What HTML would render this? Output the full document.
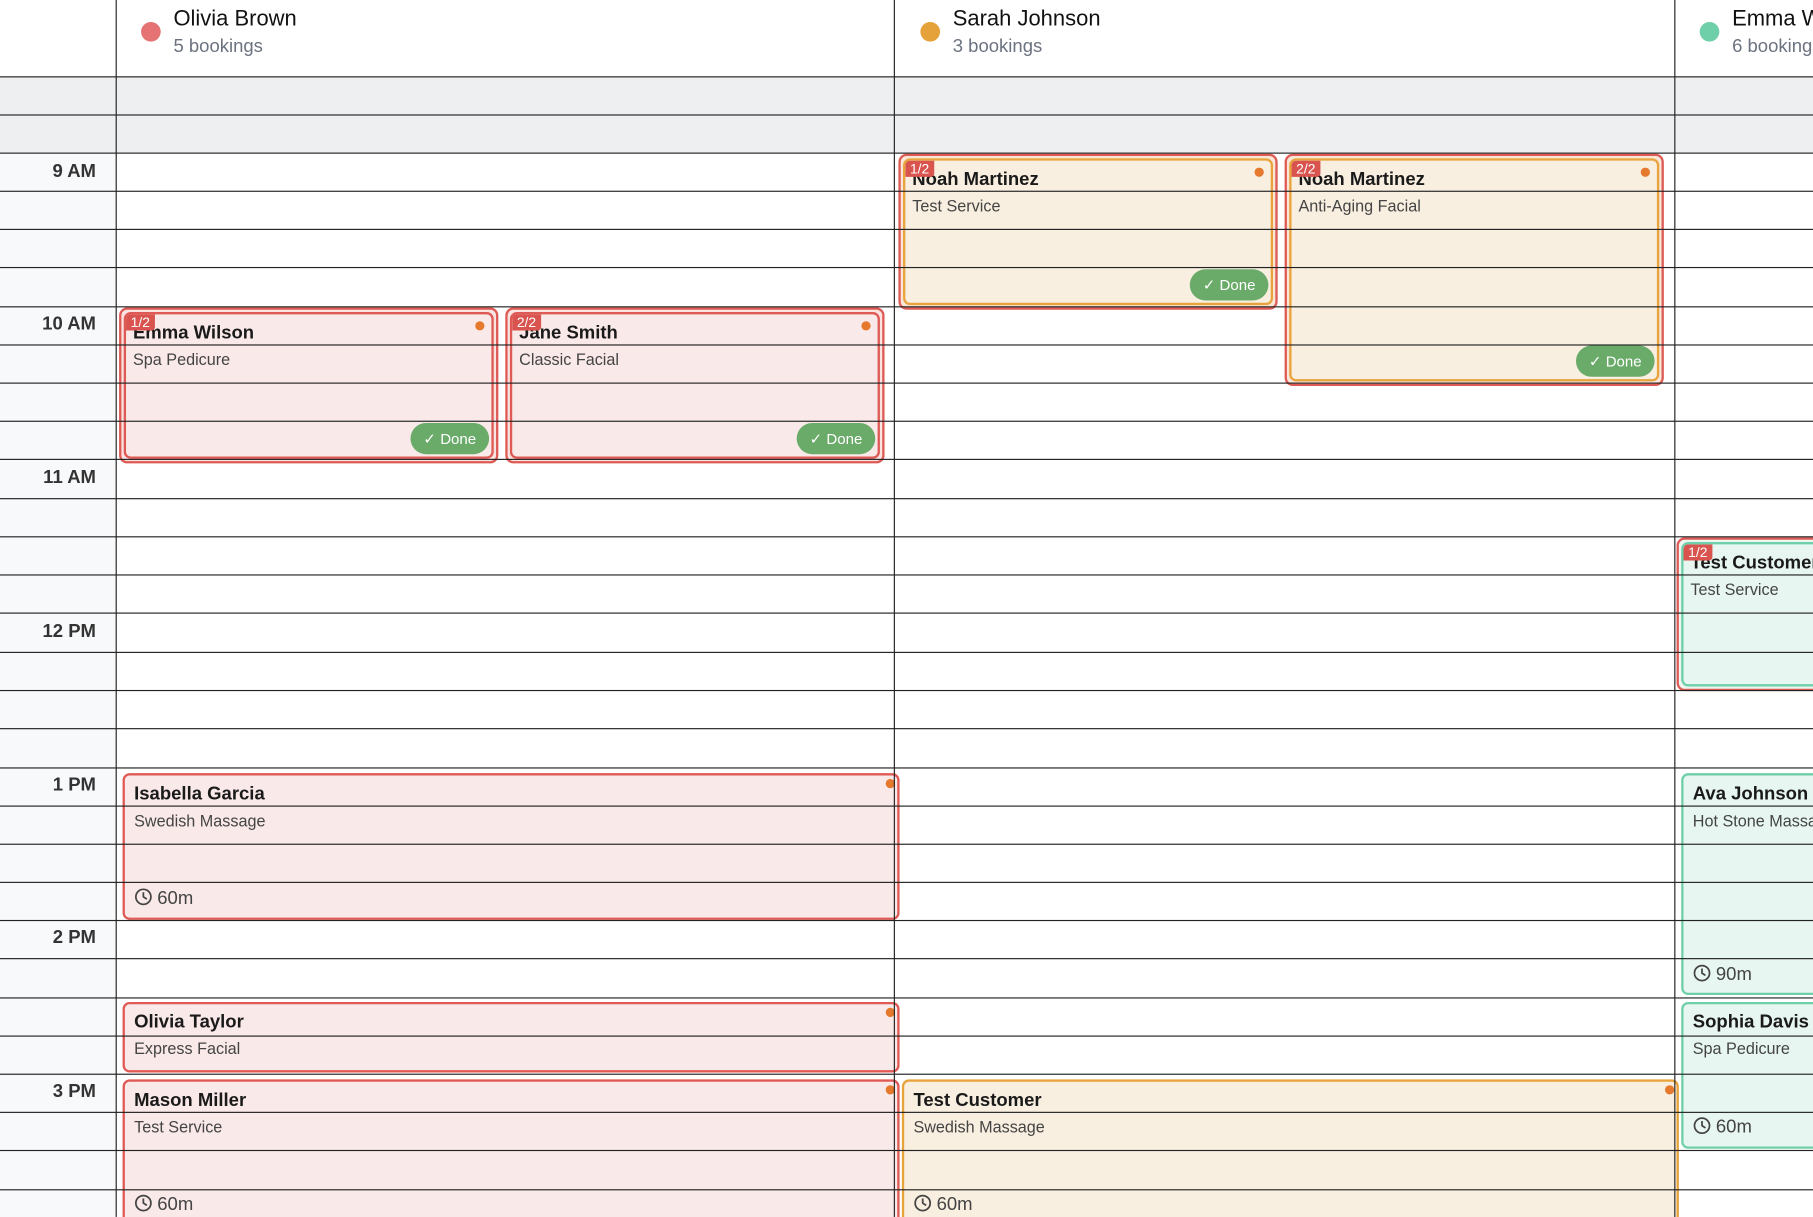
<!DOCTYPE html>
<html><head><meta charset="utf-8"><style>
*{box-sizing:border-box;margin:0;padding:0}
html,body{width:1813px;height:1217px;overflow:hidden;background:#fff;font-family:"Liberation Sans",sans-serif}
#w{position:absolute;left:0;top:0;width:1568px;height:1053px;transform:scale(1.15625,1.1557);transform-origin:0 0;overflow:hidden}
.a{position:absolute}
.h{position:absolute;left:0;width:1568px;height:1px;background:#222;z-index:5}
.v{position:absolute;top:0;width:1px;height:1053px;background:#222;z-index:5}
.t{position:absolute;right:1485px;font-size:16px;font-weight:bold;color:#333;z-index:6}
.nm{position:absolute;font-size:19px;color:#111;white-space:nowrap}
.bk{position:absolute;font-size:16px;color:#6b7280;white-space:nowrap}
.dot{position:absolute;width:17px;height:17px;border-radius:50%}
.ev{position:absolute;border-radius:6px;overflow:hidden}
.ev .n{position:absolute;left:6px;top:8px;font-size:16px;font-weight:bold;color:#1a1a1a;white-space:nowrap}
.ev .s{position:absolute;left:6px;top:31px;font-size:14px;color:#444;white-space:nowrap}
.bd{position:absolute;left:0;top:0;background:#d9534f;color:#fff;font-size:12px;padding:0 4px;line-height:14px;border-radius:0 0 3px 0;z-index:3}
.od{position:absolute;top:6px;right:6px;width:8px;height:8px;border-radius:50%;background:#e5792e}
.done{position:absolute;right:2px;width:68px;height:27px;border-radius:14px;background:#6aab6a;color:#fff;font-size:13px;line-height:27px;text-align:center}
.dur{position:absolute;left:6px;font-size:16px;color:#444;white-space:nowrap}
.dur svg{vertical-align:-2px;margin-right:4px}
.dbl{position:absolute;border:2px solid #dd5a55;border-radius:7px;padding:2px;background:#fbe3e1}
.dbl>.ev{position:relative;width:100%;height:100%;border:2px solid #dd5a55}
.s2 .n{left:8px;top:8px}.s2 .s{left:8px;top:31px}.s2 .dur{left:8px}
</style></head><body><div id="w">
<div class="a" style="left:0;top:66px;width:100px;height:987px;background:#f8f9fb"></div>
<div class="a" style="left:0;top:66px;width:1568px;height:66px;background:#eeeff1"></div>

<div class="dot" style="left:122px;top:19px;background:#e57373"></div>
<div class="nm" style="left:150px;top:6px">Olivia Brown</div><div class="bk" style="left:150px;top:32px">5 bookings</div>
<div class="dot" style="left:796px;top:19px;background:#e5a23a"></div>
<div class="nm" style="left:824px;top:6px">Sarah Johnson</div><div class="bk" style="left:824px;top:32px">3 bookings</div>
<div class="dot" style="left:1470px;top:19px;background:#6fcfa9"></div>
<div class="nm" style="left:1498px;top:6px">Emma Wilson</div><div class="bk" style="left:1498px;top:32px">6 bookings</div>

<div class="dbl" style="left:103px;top:266px;width:328px;height:135px"><div class="ev" style="background:#fae9e9"><div class="bd">1/2</div><div class="n">Emma Wilson</div><div class="s">Spa Pedicure</div><div class="od"></div><div class="done" style="bottom:2px">✓ Done</div></div></div>
<div class="dbl" style="left:437px;top:266px;width:328px;height:135px"><div class="ev" style="background:#fae9e9"><div class="bd">2/2</div><div class="n">Jane Smith</div><div class="s">Classic Facial</div><div class="od"></div><div class="done" style="bottom:2px">✓ Done</div></div></div>
<div class="dbl" style="left:777px;top:133px;width:328px;height:135px;background:#f9e6d6"><div class="ev" style="background:#f9efe0;border-color:#e8a33d"><div class="bd">1/2</div><div class="n">Noah Martinez</div><div class="s">Test Service</div><div class="od"></div><div class="done" style="bottom:2px">✓ Done</div></div></div>
<div class="dbl" style="left:1111px;top:133px;width:328px;height:201px;background:#f9e6d6"><div class="ev" style="background:#f9efe0;border-color:#e8a33d"><div class="bd">2/2</div><div class="n">Noah Martinez</div><div class="s">Anti-Aging Facial</div><div class="od"></div><div class="done" style="bottom:2px">✓ Done</div></div></div>
<div class="dbl" style="left:1450px;top:465px;width:200px;height:133px;background:#eef6f2"><div class="ev" style="background:#e7f6f1;border-color:#6fcfa9"><div class="bd">1/2</div><div class="n">Test Customer</div><div class="s">Test Service</div></div></div>

<div class="ev s2" style="left:106px;top:669px;width:672px;height:127px;background:#fae9e9;border:2px solid #e05a55"><div class="n">Isabella Garcia</div><div class="s">Swedish Massage</div><div class="od" style="top:3px;right:2px"></div><div class="dur" style="top:97px"><svg width="16" height="16" viewBox="0 0 16 16"><circle cx="8" cy="8" r="6.5" fill="none" stroke="#444" stroke-width="1.5"/><path d="M8 4v4l3 2" fill="none" stroke="#444" stroke-width="1.5"/></svg>60m</div></div>
<div class="ev s2" style="left:106px;top:867px;width:672px;height:61px;background:#fae9e9;border:2px solid #e05a55"><div class="n" style="top:7px">Olivia Taylor</div><div class="s" style="top:30px">Express Facial</div><div class="od" style="top:3px;right:2px"></div></div>
<div class="ev s2" style="left:106px;top:934px;width:672px;height:140px;background:#fae9e9;border:2px solid #e05a55"><div class="n">Mason Miller</div><div class="s">Test Service</div><div class="od" style="top:3px;right:2px"></div><div class="dur" style="top:97px"><svg width="16" height="16" viewBox="0 0 16 16"><circle cx="8" cy="8" r="6.5" fill="none" stroke="#444" stroke-width="1.5"/><path d="M8 4v4l3 2" fill="none" stroke="#444" stroke-width="1.5"/></svg>60m</div></div>
<div class="ev s2" style="left:780px;top:934px;width:672px;height:140px;background:#f9efe0;border:2px solid #e8a33d"><div class="n">Test Customer</div><div class="s">Swedish Massage</div><div class="od" style="top:3px;right:2px"></div><div class="dur" style="top:97px"><svg width="16" height="16" viewBox="0 0 16 16"><circle cx="8" cy="8" r="6.5" fill="none" stroke="#444" stroke-width="1.5"/><path d="M8 4v4l3 2" fill="none" stroke="#444" stroke-width="1.5"/></svg>60m</div></div>
<div class="ev s2" style="left:1454px;top:669px;width:200px;height:192px;background:#e7f6f1;border:2px solid #6fcfa9"><div class="n">Ava Johnson</div><div class="s">Hot Stone Massage</div><div class="dur" style="top:163px"><svg width="16" height="16" viewBox="0 0 16 16"><circle cx="8" cy="8" r="6.5" fill="none" stroke="#444" stroke-width="1.5"/><path d="M8 4v4l3 2" fill="none" stroke="#444" stroke-width="1.5"/></svg>90m</div></div>
<div class="ev s2" style="left:1454px;top:867px;width:200px;height:127px;background:#e7f6f1;border:2px solid #6fcfa9"><div class="n" style="top:7px">Sophia Davis</div><div class="s" style="top:30px">Spa Pedicure</div><div class="dur" style="top:97px"><svg width="16" height="16" viewBox="0 0 16 16"><circle cx="8" cy="8" r="6.5" fill="none" stroke="#444" stroke-width="1.5"/><path d="M8 4v4l3 2" fill="none" stroke="#444" stroke-width="1.5"/></svg>60m</div></div>

<div class="v" style="left:100px"></div><div class="v" style="left:773px"></div><div class="v" style="left:1448px"></div>
<div class="h" style="top:66px"></div><div class="h" style="top:99px"></div><div class="h" style="top:132px"></div><div class="h" style="top:165px"></div><div class="h" style="top:198px"></div><div class="h" style="top:231px"></div><div class="h" style="top:265px"></div><div class="h" style="top:298px"></div><div class="h" style="top:331px"></div><div class="h" style="top:364px"></div><div class="h" style="top:397px"></div><div class="h" style="top:431px"></div><div class="h" style="top:464px"></div><div class="h" style="top:497px"></div><div class="h" style="top:530px"></div><div class="h" style="top:564px"></div><div class="h" style="top:597px"></div><div class="h" style="top:630px"></div><div class="h" style="top:664px"></div><div class="h" style="top:697px"></div><div class="h" style="top:730px"></div><div class="h" style="top:763px"></div><div class="h" style="top:796px"></div><div class="h" style="top:829px"></div><div class="h" style="top:863px"></div><div class="h" style="top:896px"></div><div class="h" style="top:929px"></div><div class="h" style="top:962px"></div><div class="h" style="top:995px"></div><div class="h" style="top:1029px"></div>

<div class="t" style="top:140px">9 AM</div>
<div class="t" style="top:272px">10 AM</div>
<div class="t" style="top:405px">11 AM</div>
<div class="t" style="top:538px">12 PM</div>
<div class="t" style="top:671px">1 PM</div>
<div class="t" style="top:803px">2 PM</div>
<div class="t" style="top:936px">3 PM</div>
</div></body></html>
